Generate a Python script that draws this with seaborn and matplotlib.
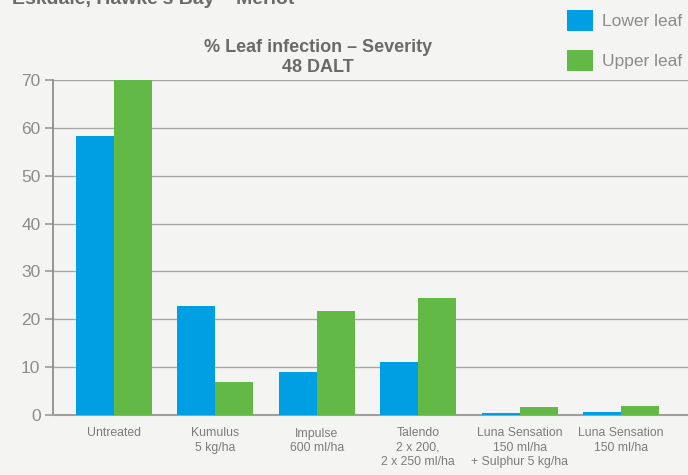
import pandas as pd
import matplotlib.pyplot as plt
import seaborn as sns
from matplotlib.patches import Patch

# ---- data ----
treatments = ["Untreated", "Kumulus\n5 kg/ha", "Impulse\n600 ml/ha",
              "Talendo\n2 x 200,\n2 x 250 ml/ha",
              "Luna Sensation\n150 ml/ha\n+ Sulphur 5 kg/ha",
              "Luna Sensation\n150 ml/ha"]
lower_leaf = [58.2, 22.8, 9.0, 11.0, 0.4, 0.6]
upper_leaf = [70.0, 6.9, 21.8, 24.5, 1.7, 1.9]
series = ["Lower leaf", "Upper leaf"]
colors = ["#009fe3", "#63b946"]

df = pd.DataFrame({
    "treatment": treatments * 2,
    "value": lower_leaf + upper_leaf,
    "leaf": [series[0]] * len(treatments) + [series[1]] * len(treatments),
})

sns.set_theme(style="white")
plt.rcParams['font.family'] = ['Liberation Sans', 'DejaVu Sans']

bg = "#f4f4f2"
fig = plt.figure(figsize=(6.88, 4.75), dpi=100, facecolor=bg)
ax = fig.add_axes([53 / 688, 60 / 475, 1 - 53 / 688, 335 / 475])
ax.set_facecolor(bg)

sns.barplot(data=df, x="treatment", y="value", hue="leaf", palette=colors,
            width=0.75, saturation=1, ax=ax, legend=False, zorder=3,
            linewidth=0)

ax.set_ylim(0, 70)
ax.set_xlim(-0.6, 5.66)
ax.set_yticks(range(0, 71, 10))
ax.yaxis.grid(True, color="#a8a8a8", lw=1, zorder=0)
ax.set_xlabel("")
ax.set_ylabel("")
for s in ["top", "right"]:
    ax.spines[s].set_visible(False)
ax.spines["left"].set_color("#8a8a8a")
ax.spines["bottom"].set_color("#a0a0a0")
ax.spines["bottom"].set_linewidth(1.5)
ax.tick_params(axis="y", length=6, color="#a0a0a0", labelcolor="#8c8c8c",
               labelsize=12.5, pad=3, left=True)
ax.tick_params(axis="x", length=0, labelcolor="#7c7c7c", labelsize=8.8, pad=9)
for lab in ax.get_xticklabels():
    lab.set_linespacing(1.27)

ax.set_title("% Leaf infection – Severity\n48 DALT", fontsize=13,
             fontweight="bold", color="#6a6a6a", x=(318 - 53) / 635,
             y=1.0, pad=6, linespacing=1.17)

handles = [Patch(facecolor=c, label=l, linewidth=0) for c, l in zip(colors, series)]
fig.legend(handles=handles, loc="upper left", bbox_to_anchor=(557 / 688, 1.0),
           frameon=False, fontsize=12.5, labelcolor="#8c8c8c",
           handlelength=1.45, handleheight=1.45, handletextpad=0.55,
           labelspacing=1.1, borderaxespad=0.2)

fig.text(12 / 688, 1 - 4 / 475, "Eskdale, Hawke's Bay – Merlot", fontsize=14,
         fontweight="bold", color="#6a6a6a", ha="left", va="baseline")

fig.savefig("out.png", dpi=100, facecolor=bg)
